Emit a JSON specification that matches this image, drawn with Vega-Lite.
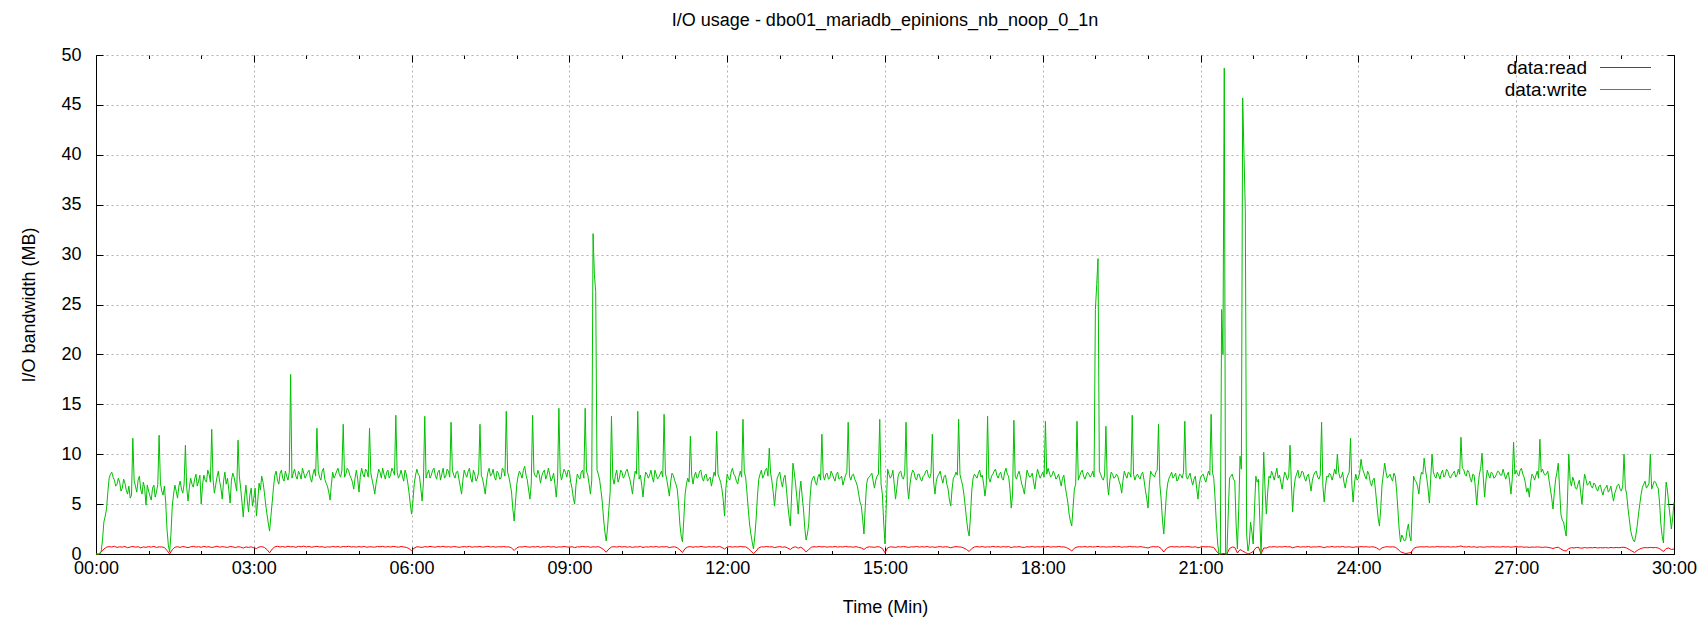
{
"$schema": "https://vega.github.io/schema/vega-lite/v6.json",
"width": 1578, "height": 499,
"autosize": {"type": "none"},
"padding": {"left": 96, "top": 55, "right": 34, "bottom": 67},
"background": "white",
"title": {"text": "I/O usage - dbo01_mariadb_epinions_nb_noop_0_1n", "font": "Liberation Sans", "fontSize": 18, "fontWeight": "normal", "color": "#000", "anchor": "middle", "frame": "group", "baseline": "middle", "offset": 7},
"config": {
  "view": {"stroke": null},
  "axis": {"domainColor": "#000", "domainWidth": 1, "tickColor": "#000", "tickWidth": 1, "labelColor": "#000", "labelFont": "Liberation Sans", "labelFontSize": 18, "titleFont": "Liberation Sans", "titleFontSize": 18, "titleFontWeight": "normal", "titleColor": "#000", "gridColor": "#b0b0b0", "gridDash": [2, 3], "gridWidth": 1, "labelOverlap": false, "labelFlush": false},
  "legend": {"orient": "none", "legendX": 1520, "legendY": 3, "labelFont": "Liberation Sans", "labelFontSize": 19, "labelColor": "#000", "symbolType": "M-3,0H3", "symbolSize": 289, "symbolStrokeWidth": 1, "labelAlign": "right", "labelOffset": -48, "rowPadding": 2}
},
"datasets": {"io": [
{"t":0,"read":0,"write":0},{"t":3,"read":0,"write":0},{"t":6,"read":0.2,"write":0.3},{"t":9,"read":0.5,"write":3.2},{"t":12,"read":0.68,"write":4.5},{"t":15,"read":0.74,"write":7.6},{"t":18,"read":0.7,"write":8.2},{"t":21,"read":0.77,"write":7.4},{"t":24,"read":0.66,"write":7.0},{"t":27,"read":0.72,"write":7.2},{"t":30,"read":0.69,"write":6.6},{"t":33,"read":0.75,"write":7.1},{"t":36,"read":0.63,"write":6.0},{"t":39,"read":0.7,"write":5.6},{"t":42,"read":0.76,"write":11.6},{"t":45,"read":0.68,"write":6.8},{"t":48,"read":0.73,"write":7.4},{"t":51,"read":0.62,"write":6.5},{"t":54,"read":0.71,"write":7.2},{"t":57,"read":0.67,"write":4.9},
{"t":60,"read":0.74,"write":6.3},{"t":63,"read":0.69,"write":5.4},{"t":66,"read":0.77,"write":6.9},{"t":69,"read":0.65,"write":6.2},{"t":72,"read":0.72,"write":11.9},{"t":75,"read":0.7,"write":6.3},{"t":78,"read":0.66,"write":6.8},{"t":81,"read":0.35,"write":2.5},{"t":84,"read":0.02,"write":0.2},{"t":87,"read":0.42,"write":4.8},{"t":90,"read":0.68,"write":6.9},{"t":93,"read":0.73,"write":5.6},{"t":96,"read":0.66,"write":7.3},{"t":99,"read":0.75,"write":6.1},{"t":102,"read":0.7,"write":10.9},{"t":105,"read":0.64,"write":5.3},{"t":108,"read":0.72,"write":7.6},{"t":111,"read":0.77,"write":6.7},{"t":114,"read":0.69,"write":8.0},{"t":117,"read":0.74,"write":7.3},
{"t":120,"read":0.67,"write":5.0},{"t":123,"read":0.76,"write":7.9},{"t":126,"read":0.7,"write":7.2},{"t":129,"read":0.73,"write":8.0},{"t":132,"read":0.65,"write":12.5},{"t":135,"read":0.71,"write":6.1},{"t":138,"read":0.78,"write":7.7},{"t":141,"read":0.68,"write":7.3},{"t":144,"read":0.74,"write":5.5},{"t":147,"read":0.7,"write":8.2},{"t":150,"read":0.66,"write":7.6},{"t":153,"read":0.75,"write":5.1},{"t":156,"read":0.72,"write":8.1},{"t":159,"read":0.64,"write":7.0},{"t":162,"read":0.73,"write":11.4},{"t":165,"read":0.69,"write":6.6},{"t":168,"read":0.6,"write":3.7},{"t":171,"read":0.71,"write":6.9},{"t":174,"read":0.66,"write":4.2},{"t":177,"read":0.72,"write":6.6},
{"t":180,"read":0.62,"write":5.6},{"t":183,"read":0.55,"write":3.8},{"t":186,"read":0.7,"write":7.1},{"t":189,"read":0.74,"write":7.8},{"t":192,"read":0.66,"write":6.2},{"t":195,"read":0.45,"write":4.0},{"t":198,"read":0.12,"write":2.3},{"t":201,"read":0.5,"write":5.2},{"t":204,"read":0.72,"write":7.9},{"t":207,"read":0.77,"write":7.4},{"t":210,"read":0.7,"write":8.1},{"t":213,"read":0.75,"write":7.6},{"t":216,"read":0.68,"write":8.3},{"t":219,"read":0.78,"write":7.4},{"t":222,"read":0.71,"write":18.0},{"t":225,"read":0.74,"write":8.1},{"t":228,"read":0.67,"write":7.8},{"t":231,"read":0.76,"write":8.3},{"t":234,"read":0.72,"write":7.5},{"t":237,"read":0.79,"write":8.1},
{"t":240,"read":0.7,"write":7.9},{"t":243,"read":0.75,"write":8.4},{"t":246,"read":0.68,"write":7.2},{"t":249,"read":0.73,"write":8.5},{"t":252,"read":0.77,"write":12.6},{"t":255,"read":0.7,"write":7.7},{"t":258,"read":0.74,"write":8.3},{"t":261,"read":0.66,"write":7.5},{"t":264,"read":0.72,"write":6.8},{"t":267,"read":0.69,"write":5.4},{"t":270,"read":0.76,"write":8.2},{"t":273,"read":0.71,"write":7.9},{"t":276,"read":0.74,"write":8.6},{"t":279,"read":0.68,"write":7.7},{"t":282,"read":0.75,"write":13.0},{"t":285,"read":0.72,"write":8.0},{"t":288,"read":0.77,"write":8.4},{"t":291,"read":0.7,"write":7.6},{"t":294,"read":0.73,"write":6.5},{"t":297,"read":0.69,"write":8.4},
{"t":300,"read":0.74,"write":6.2},{"t":303,"read":0.7,"write":8.6},{"t":306,"read":0.76,"write":7.7},{"t":309,"read":0.67,"write":8.3},{"t":312,"read":0.73,"write":12.6},{"t":315,"read":0.71,"write":7.4},{"t":318,"read":0.68,"write":6.0},{"t":321,"read":0.75,"write":7.8},{"t":324,"read":0.72,"write":8.2},{"t":327,"read":0.77,"write":8.6},{"t":330,"read":0.69,"write":7.5},{"t":333,"read":0.74,"write":8.4},{"t":336,"read":0.7,"write":7.9},{"t":339,"read":0.76,"write":8.3},{"t":342,"read":0.72,"write":13.9},{"t":345,"read":0.68,"write":7.6},{"t":348,"read":0.75,"write":8.4},{"t":351,"read":0.71,"write":7.3},{"t":354,"read":0.66,"write":8.0},{"t":357,"read":0.55,"write":6.2},
{"t":360,"read":0.32,"write":4.0},{"t":363,"read":0.6,"write":7.0},{"t":366,"read":0.72,"write":8.5},{"t":369,"read":0.7,"write":7.8},{"t":372,"read":0.66,"write":5.3},{"t":375,"read":0.74,"write":13.8},{"t":378,"read":0.7,"write":8.1},{"t":381,"read":0.76,"write":7.6},{"t":384,"read":0.72,"write":8.4},{"t":387,"read":0.68,"write":7.9},{"t":390,"read":0.75,"write":8.2},{"t":393,"read":0.71,"write":7.4},{"t":396,"read":0.77,"write":8.6},{"t":399,"read":0.7,"write":7.8},{"t":402,"read":0.73,"write":8.3},{"t":405,"read":0.69,"write":13.2},{"t":408,"read":0.75,"write":7.9},{"t":411,"read":0.72,"write":8.2},{"t":414,"read":0.67,"write":7.5},{"t":417,"read":0.71,"write":6.0},
{"t":420,"read":0.74,"write":8.4},{"t":423,"read":0.7,"write":7.7},{"t":426,"read":0.76,"write":8.6},{"t":429,"read":0.68,"write":7.2},{"t":432,"read":0.73,"write":8.0},{"t":435,"read":0.71,"write":7.6},{"t":438,"read":0.75,"write":13.0},{"t":441,"read":0.69,"write":7.5},{"t":444,"read":0.72,"write":6.0},{"t":447,"read":0.77,"write":8.2},{"t":450,"read":0.7,"write":7.8},{"t":453,"read":0.74,"write":8.5},{"t":456,"read":0.68,"write":7.4},{"t":459,"read":0.73,"write":8.1},{"t":462,"read":0.71,"write":7.6},{"t":465,"read":0.75,"write":8.4},{"t":468,"read":0.7,"write":14.3},{"t":471,"read":0.72,"write":7.7},{"t":474,"read":0.6,"write":6.2},{"t":477,"read":0.35,"write":3.3},
{"t":480,"read":0.62,"write":7.0},{"t":483,"read":0.72,"write":8.3},{"t":486,"read":0.7,"write":7.6},{"t":489,"read":0.76,"write":8.8},{"t":492,"read":0.71,"write":7.4},{"t":495,"read":0.68,"write":5.5},{"t":498,"read":0.74,"write":13.9},{"t":501,"read":0.7,"write":7.8},{"t":504,"read":0.75,"write":8.4},{"t":507,"read":0.67,"write":7.1},{"t":510,"read":0.73,"write":8.2},{"t":513,"read":0.7,"write":7.5},{"t":516,"read":0.76,"write":8.6},{"t":519,"read":0.69,"write":7.3},{"t":522,"read":0.74,"write":8.1},{"t":525,"read":0.66,"write":5.7},{"t":528,"read":0.72,"write":14.6},{"t":531,"read":0.7,"write":7.4},{"t":534,"read":0.75,"write":8.5},{"t":537,"read":0.71,"write":7.7},
{"t":540,"read":0.68,"write":8.3},{"t":543,"read":0.73,"write":6.6},{"t":546,"read":0.64,"write":5.0},{"t":549,"read":0.72,"write":8.0},{"t":552,"read":0.7,"write":7.5},{"t":555,"read":0.76,"write":8.4},{"t":558,"read":0.71,"write":14.6},{"t":561,"read":0.74,"write":7.9},{"t":564,"read":0.67,"write":6.0},{"t":567,"read":0.72,"write":32.1},{"t":570,"read":0.7,"write":26.3},{"t":573,"read":0.74,"write":8.0},{"t":576,"read":0.62,"write":6.4},{"t":579,"read":0.45,"write":3.5},{"t":582,"read":0.18,"write":1.3},{"t":585,"read":0.5,"write":4.5},{"t":588,"read":0.7,"write":13.8},{"t":591,"read":0.73,"write":7.0},{"t":594,"read":0.69,"write":8.4},{"t":597,"read":0.75,"write":7.6},
{"t":600,"read":0.7,"write":8.2},{"t":603,"read":0.74,"write":7.8},{"t":606,"read":0.68,"write":8.5},{"t":609,"read":0.73,"write":7.5},{"t":612,"read":0.66,"write":6.0},{"t":615,"read":0.72,"write":8.3},{"t":618,"read":0.7,"write":14.3},{"t":621,"read":0.76,"write":7.9},{"t":624,"read":0.65,"write":5.7},{"t":627,"read":0.72,"write":8.2},{"t":630,"read":0.69,"write":7.6},{"t":633,"read":0.74,"write":8.4},{"t":636,"read":0.7,"write":7.2},{"t":639,"read":0.75,"write":8.0},{"t":642,"read":0.68,"write":7.7},{"t":645,"read":0.73,"write":8.3},{"t":648,"read":0.71,"write":14.0},{"t":651,"read":0.74,"write":7.5},{"t":654,"read":0.64,"write":5.8},{"t":657,"read":0.7,"write":8.1},
{"t":660,"read":0.72,"write":7.4},{"t":663,"read":0.62,"write":6.5},{"t":666,"read":0.42,"write":3.0},{"t":669,"read":0.15,"write":1.2},{"t":672,"read":0.55,"write":6.0},{"t":675,"read":0.7,"write":7.6},{"t":678,"read":0.74,"write":11.8},{"t":681,"read":0.68,"write":7.0},{"t":684,"read":0.73,"write":8.2},{"t":687,"read":0.7,"write":7.7},{"t":690,"read":0.76,"write":8.4},{"t":693,"read":0.71,"write":7.3},{"t":696,"read":0.68,"write":8.0},{"t":699,"read":0.74,"write":7.5},{"t":702,"read":0.7,"write":6.8},{"t":705,"read":0.73,"write":8.2},{"t":708,"read":0.69,"write":12.3},{"t":711,"read":0.75,"write":7.6},{"t":714,"read":0.66,"write":6.5},{"t":717,"read":0.5,"write":3.8},
{"t":720,"read":0.7,"write":8.0},{"t":723,"read":0.74,"write":7.4},{"t":726,"read":0.69,"write":8.6},{"t":729,"read":0.73,"write":7.8},{"t":732,"read":0.7,"write":7.0},{"t":735,"read":0.76,"write":8.3},{"t":738,"read":0.71,"write":13.5},{"t":741,"read":0.72,"write":7.7},{"t":744,"read":0.55,"write":4.5},{"t":747,"read":0.3,"write":2.0},{"t":750,"read":0.04,"write":0.5},{"t":753,"read":0.3,"write":3.5},{"t":756,"read":0.62,"write":7.5},{"t":759,"read":0.72,"write":8.4},{"t":762,"read":0.7,"write":7.9},{"t":765,"read":0.75,"write":8.6},{"t":768,"read":0.71,"write":10.6},{"t":771,"read":0.73,"write":7.3},{"t":774,"read":0.64,"write":4.8},{"t":777,"read":0.7,"write":7.6},
{"t":780,"read":0.74,"write":8.2},{"t":783,"read":0.68,"write":6.7},{"t":786,"read":0.72,"write":7.9},{"t":789,"read":0.6,"write":5.0},{"t":792,"read":0.45,"write":2.8},{"t":795,"read":0.66,"write":9.1},{"t":798,"read":0.72,"write":7.0},{"t":801,"read":0.58,"write":4.0},{"t":804,"read":0.68,"write":7.3},{"t":807,"read":0.5,"write":4.5},{"t":810,"read":0.2,"write":1.4},{"t":813,"read":0.45,"write":3.0},{"t":816,"read":0.68,"write":7.2},{"t":819,"read":0.73,"write":7.8},{"t":822,"read":0.7,"write":6.9},{"t":825,"read":0.75,"write":8.0},{"t":828,"read":0.71,"write":12.0},{"t":831,"read":0.74,"write":7.4},{"t":834,"read":0.68,"write":8.1},{"t":837,"read":0.73,"write":7.6},
{"t":840,"read":0.7,"write":8.0},{"t":843,"read":0.75,"write":7.3},{"t":846,"read":0.69,"write":8.2},{"t":849,"read":0.73,"write":7.6},{"t":852,"read":0.7,"write":6.9},{"t":855,"read":0.76,"write":7.9},{"t":858,"read":0.71,"write":13.2},{"t":861,"read":0.72,"write":7.4},{"t":864,"read":0.68,"write":8.0},{"t":867,"read":0.74,"write":7.2},{"t":870,"read":0.66,"write":6.0},{"t":873,"read":0.6,"write":4.8},{"t":876,"read":0.45,"write":2.0},{"t":879,"read":0.65,"write":7.0},{"t":882,"read":0.72,"write":7.7},{"t":885,"read":0.7,"write":8.1},{"t":888,"read":0.67,"write":6.6},{"t":891,"read":0.73,"write":7.8},{"t":894,"read":0.7,"write":13.5},{"t":897,"read":0.55,"write":6.0},
{"t":900,"read":0.12,"write":1.0},{"t":903,"read":0.62,"write":8.5},{"t":906,"read":0.72,"write":7.6},{"t":909,"read":0.7,"write":8.4},{"t":912,"read":0.66,"write":5.5},{"t":915,"read":0.73,"write":7.8},{"t":918,"read":0.7,"write":8.3},{"t":921,"read":0.75,"write":7.5},{"t":924,"read":0.71,"write":13.2},{"t":927,"read":0.66,"write":5.5},{"t":930,"read":0.72,"write":7.9},{"t":933,"read":0.7,"write":8.2},{"t":936,"read":0.76,"write":7.4},{"t":939,"read":0.69,"write":8.0},{"t":942,"read":0.73,"write":7.3},{"t":945,"read":0.7,"write":7.9},{"t":948,"read":0.75,"write":8.4},{"t":951,"read":0.68,"write":7.6},{"t":954,"read":0.72,"write":12.0},{"t":957,"read":0.66,"write":6.0},
{"t":960,"read":0.71,"write":7.8},{"t":963,"read":0.74,"write":8.3},{"t":966,"read":0.69,"write":7.1},{"t":969,"read":0.73,"write":7.9},{"t":972,"read":0.7,"write":6.5},{"t":975,"read":0.62,"write":4.8},{"t":978,"read":0.7,"write":7.6},{"t":981,"read":0.74,"write":8.2},{"t":984,"read":0.71,"write":13.5},{"t":987,"read":0.69,"write":7.4},{"t":990,"read":0.6,"write":6.0},{"t":993,"read":0.45,"write":3.5},{"t":996,"read":0.25,"write":1.8},{"t":999,"read":0.55,"write":6.4},{"t":1002,"read":0.7,"write":8.0},{"t":1005,"read":0.74,"write":7.6},{"t":1008,"read":0.7,"write":8.4},{"t":1011,"read":0.75,"write":7.9},{"t":1014,"read":0.68,"write":5.8},{"t":1017,"read":0.72,"write":13.8},
{"t":1020,"read":0.7,"write":7.2},{"t":1023,"read":0.76,"write":8.0},{"t":1026,"read":0.71,"write":8.5},{"t":1029,"read":0.73,"write":7.6},{"t":1032,"read":0.69,"write":8.2},{"t":1035,"read":0.74,"write":7.4},{"t":1038,"read":0.7,"write":8.6},{"t":1041,"read":0.75,"write":7.8},{"t":1044,"read":0.64,"write":4.6},{"t":1047,"read":0.72,"write":13.4},{"t":1050,"read":0.7,"write":7.5},{"t":1053,"read":0.74,"write":8.3},{"t":1056,"read":0.68,"write":7.0},{"t":1059,"read":0.66,"write":6.0},{"t":1062,"read":0.73,"write":8.4},{"t":1065,"read":0.7,"write":7.7},{"t":1068,"read":0.76,"write":8.1},{"t":1071,"read":0.69,"write":6.5},{"t":1074,"read":0.73,"write":8.5},{"t":1077,"read":0.7,"write":7.6},
{"t":1080,"read":0.74,"write":8.2},{"t":1083,"read":0.7,"write":13.3},{"t":1086,"read":0.75,"write":8.6},{"t":1089,"read":0.69,"write":7.7},{"t":1092,"read":0.73,"write":8.3},{"t":1095,"read":0.7,"write":7.5},{"t":1098,"read":0.76,"write":8.0},{"t":1101,"read":0.71,"write":6.8},{"t":1104,"read":0.72,"write":7.9},{"t":1107,"read":0.64,"write":6.0},{"t":1110,"read":0.5,"write":4.0},{"t":1113,"read":0.3,"write":2.8},{"t":1116,"read":0.58,"write":6.5},{"t":1119,"read":0.7,"write":13.3},{"t":1122,"read":0.73,"write":7.8},{"t":1125,"read":0.7,"write":8.4},{"t":1128,"read":0.75,"write":7.5},{"t":1131,"read":0.69,"write":8.2},{"t":1134,"read":0.74,"write":7.7},{"t":1137,"read":0.7,"write":8.3},
{"t":1140,"read":0.72,"write":24.5},{"t":1143,"read":0.76,"write":29.6},{"t":1146,"read":0.7,"write":8.0},{"t":1149,"read":0.73,"write":7.4},{"t":1152,"read":0.69,"write":12.8},{"t":1155,"read":0.72,"write":5.9},{"t":1158,"read":0.7,"write":8.2},{"t":1161,"read":0.75,"write":7.6},{"t":1164,"read":0.71,"write":8.0},{"t":1167,"read":0.74,"write":7.3},{"t":1170,"read":0.68,"write":6.1},{"t":1173,"read":0.72,"write":8.3},{"t":1176,"read":0.7,"write":7.6},{"t":1179,"read":0.76,"write":8.1},{"t":1182,"read":0.71,"write":13.9},{"t":1185,"read":0.73,"write":7.4},{"t":1188,"read":0.69,"write":8.0},{"t":1191,"read":0.74,"write":7.5},{"t":1194,"read":0.7,"write":8.2},{"t":1197,"read":0.66,"write":6.4},
{"t":1200,"read":0.6,"write":4.6},{"t":1203,"read":0.7,"write":8.3},{"t":1206,"read":0.74,"write":7.9},{"t":1209,"read":0.71,"write":8.2},{"t":1212,"read":0.73,"write":13.0},{"t":1215,"read":0.55,"write":5.5},{"t":1218,"read":0.2,"write":2.0},{"t":1221,"read":0.55,"write":6.0},{"t":1224,"read":0.7,"write":7.6},{"t":1227,"read":0.74,"write":8.2},{"t":1230,"read":0.71,"write":7.8},{"t":1233,"read":0.73,"write":7.3},{"t":1236,"read":0.69,"write":8.0},{"t":1239,"read":0.74,"write":7.6},{"t":1242,"read":0.7,"write":13.3},{"t":1245,"read":0.75,"write":7.5},{"t":1248,"read":0.71,"write":8.1},{"t":1251,"read":0.68,"write":6.9},{"t":1254,"read":0.73,"write":7.8},{"t":1257,"read":0.62,"write":5.5},
{"t":1260,"read":0.7,"write":7.7},{"t":1263,"read":0.74,"write":8.0},{"t":1266,"read":0.71,"write":7.2},{"t":1269,"read":0.73,"write":8.3},{"t":1272,"read":0.7,"write":14.0},{"t":1275,"read":0.66,"write":7.6},{"t":1278,"read":0.3,"write":3.0},{"t":1281,"read":0,"write":0},{"t":1284,"read":0.02,"write":24.5},{"t":1287,"read":0.05,"write":48.7},{"t":1290,"read":0,"write":0},{"t":1293,"read":0.55,"write":7.6},{"t":1296,"read":0.7,"write":8.0},{"t":1299,"read":0.66,"write":7.3},{"t":1302,"read":0.1,"write":0.5},{"t":1305,"read":0.45,"write":9.8},{"t":1308,"read":0.3,"write":45.7},{"t":1311,"read":0.15,"write":34.5},{"t":1314,"read":0,"write":0.3},{"t":1317,"read":0.1,"write":3.2},
{"t":1320,"read":0.25,"write":1.0},{"t":1323,"read":0.62,"write":7.8},{"t":1326,"read":0.7,"write":7.5},{"t":1329,"read":0.02,"write":0},{"t":1332,"read":0.6,"write":10.2},{"t":1335,"read":0.6,"write":4.0},{"t":1338,"read":0.72,"write":7.8},{"t":1341,"read":0.7,"write":8.3},{"t":1344,"read":0.74,"write":7.4},{"t":1347,"read":0.69,"write":8.6},{"t":1350,"read":0.73,"write":7.9},{"t":1353,"read":0.7,"write":6.5},{"t":1356,"read":0.75,"write":8.2},{"t":1359,"read":0.71,"write":7.4},{"t":1362,"read":0.73,"write":10.9},{"t":1365,"read":0.62,"write":4.2},{"t":1368,"read":0.7,"write":7.6},{"t":1371,"read":0.74,"write":8.4},{"t":1374,"read":0.69,"write":7.8},{"t":1377,"read":0.73,"write":8.2},
{"t":1380,"read":0.7,"write":7.3},{"t":1383,"read":0.75,"write":8.0},{"t":1386,"read":0.68,"write":6.3},{"t":1389,"read":0.72,"write":7.9},{"t":1392,"read":0.7,"write":8.3},{"t":1395,"read":0.74,"write":7.5},{"t":1398,"read":0.71,"write":13.2},{"t":1401,"read":0.64,"write":5.2},{"t":1404,"read":0.72,"write":7.8},{"t":1407,"read":0.7,"write":8.1},{"t":1410,"read":0.75,"write":7.4},{"t":1413,"read":0.69,"write":8.5},{"t":1416,"read":0.73,"write":10.0},{"t":1419,"read":0.7,"write":7.6},{"t":1422,"read":0.76,"write":8.2},{"t":1425,"read":0.68,"write":6.6},{"t":1428,"read":0.72,"write":7.9},{"t":1431,"read":0.7,"write":11.6},{"t":1434,"read":0.66,"write":5.2},{"t":1437,"read":0.72,"write":8.0},
{"t":1440,"read":0.7,"write":7.6},{"t":1443,"read":0.74,"write":9.5},{"t":1446,"read":0.71,"write":8.2},{"t":1449,"read":0.73,"write":7.5},{"t":1452,"read":0.69,"write":8.0},{"t":1455,"read":0.72,"write":6.8},{"t":1458,"read":0.7,"write":7.6},{"t":1461,"read":0.6,"write":5.0},{"t":1464,"read":0.42,"write":2.8},{"t":1467,"read":0.62,"write":7.0},{"t":1470,"read":0.7,"write":9.1},{"t":1473,"read":0.73,"write":7.6},{"t":1476,"read":0.7,"write":8.0},{"t":1479,"read":0.72,"write":7.3},{"t":1482,"read":0.68,"write":7.8},{"t":1485,"read":0.5,"write":4.5},{"t":1488,"read":0.22,"write":1.2},{"t":1491,"read":0.12,"write":1.6},{"t":1494,"read":0.05,"write":1.4},{"t":1497,"read":0.1,"write":3.0},
{"t":1500,"read":0.15,"write":1.3},{"t":1503,"read":0.55,"write":7.8},{"t":1506,"read":0.68,"write":7.2},{"t":1509,"read":0.7,"write":6.0},{"t":1512,"read":0.73,"write":8.2},{"t":1515,"read":0.7,"write":9.6},{"t":1518,"read":0.74,"write":7.6},{"t":1521,"read":0.69,"write":5.1},{"t":1524,"read":0.72,"write":10.0},{"t":1527,"read":0.7,"write":7.8},{"t":1530,"read":0.75,"write":8.2},{"t":1533,"read":0.71,"write":7.5},{"t":1536,"read":0.73,"write":8.4},{"t":1539,"read":0.7,"write":7.9},{"t":1542,"read":0.74,"write":8.3},{"t":1545,"read":0.69,"write":7.6},{"t":1548,"read":0.72,"write":8.1},{"t":1551,"read":0.7,"write":7.7},{"t":1554,"read":0.75,"write":8.5},{"t":1557,"read":0.8,"write":11.7},
{"t":1560,"read":0.72,"write":8.5},{"t":1563,"read":0.7,"write":7.8},{"t":1566,"read":0.74,"write":8.2},{"t":1569,"read":0.69,"write":7.2},{"t":1572,"read":0.73,"write":7.9},{"t":1575,"read":0.66,"write":4.9},{"t":1578,"read":0.72,"write":8.0},{"t":1581,"read":0.7,"write":10.1},{"t":1584,"read":0.68,"write":5.7},{"t":1587,"read":0.73,"write":8.4},{"t":1590,"read":0.7,"write":7.6},{"t":1593,"read":0.74,"write":8.1},{"t":1596,"read":0.7,"write":7.7},{"t":1599,"read":0.72,"write":8.3},{"t":1602,"read":0.69,"write":7.9},{"t":1605,"read":0.74,"write":8.5},{"t":1608,"read":0.7,"write":7.5},{"t":1611,"read":0.73,"write":8.2},{"t":1614,"read":0.68,"write":6.0},{"t":1617,"read":0.72,"write":11.2},
{"t":1620,"read":0.74,"write":8.4},{"t":1623,"read":0.7,"write":7.8},{"t":1626,"read":0.72,"write":8.6},{"t":1629,"read":0.68,"write":7.7},{"t":1632,"read":0.7,"write":6.2},{"t":1635,"read":0.66,"write":5.7},{"t":1638,"read":0.7,"write":8.0},{"t":1641,"read":0.68,"write":7.4},{"t":1644,"read":0.71,"write":8.3},{"t":1647,"read":0.69,"write":11.5},{"t":1650,"read":0.66,"write":8.5},{"t":1653,"read":0.7,"write":7.9},{"t":1656,"read":0.67,"write":8.3},{"t":1659,"read":0.62,"write":6.5},{"t":1662,"read":0.55,"write":4.5},{"t":1665,"read":0.64,"write":7.5},{"t":1668,"read":0.68,"write":9.1},{"t":1671,"read":0.5,"write":4.0},{"t":1674,"read":0.35,"write":3.2},{"t":1677,"read":0.3,"write":1.8},
{"t":1680,"read":0.55,"write":10.0},{"t":1683,"read":0.64,"write":6.8},{"t":1686,"read":0.6,"write":7.3},{"t":1689,"read":0.66,"write":6.5},{"t":1692,"read":0.62,"write":7.4},{"t":1695,"read":0.58,"write":5.0},{"t":1698,"read":0.65,"write":8.0},{"t":1701,"read":0.6,"write":6.9},{"t":1704,"read":0.64,"write":7.3},{"t":1707,"read":0.62,"write":6.6},{"t":1710,"read":0.66,"write":7.0},{"t":1713,"read":0.6,"write":6.3},{"t":1716,"read":0.64,"write":6.9},{"t":1719,"read":0.61,"write":5.9},{"t":1722,"read":0.65,"write":6.6},{"t":1725,"read":0.6,"write":6.2},{"t":1728,"read":0.66,"write":6.8},{"t":1731,"read":0.62,"write":5.3},{"t":1734,"read":0.65,"write":6.5},{"t":1737,"read":0.63,"write":7.0},
{"t":1740,"read":0.66,"write":6.3},{"t":1743,"read":0.68,"write":10.0},{"t":1746,"read":0.6,"write":6.0},{"t":1749,"read":0.45,"write":3.5},{"t":1752,"read":0.3,"write":1.8},{"t":1755,"read":0.15,"write":1.2},{"t":1758,"read":0.35,"write":2.8},{"t":1761,"read":0.5,"write":5.0},{"t":1764,"read":0.6,"write":6.7},{"t":1767,"read":0.64,"write":7.3},{"t":1770,"read":0.62,"write":6.8},{"t":1773,"read":0.66,"write":10.0},{"t":1776,"read":0.63,"write":6.9},{"t":1779,"read":0.65,"write":7.2},{"t":1782,"read":0.6,"write":6.6},{"t":1785,"read":0.45,"write":3.0},{"t":1788,"read":0.25,"write":1.1},{"t":1791,"read":0.55,"write":7.2},{"t":1794,"read":0.6,"write":5.0},{"t":1797,"read":0.45,"write":2.5},{"t":1800,"read":0.5,"write":5.2},
{"t":1.5,"write":0},{"t":4.5,"write":0},{"t":7.5,"write":1.5},{"t":10.5,"write":3.8},{"t":13.5,"write":6.2},{"t":16.5,"write":8.0},{"t":19.5,"write":7.7},{"t":22.5,"write":6.8},{"t":25.5,"write":7.6},{"t":28.5,"write":6.3},{"t":31.5,"write":7.5},{"t":34.5,"write":6.4},{"t":37.5,"write":6.8},{"t":40.5,"write":5.9},{"t":43.5,"write":7.4},{"t":46.5,"write":6.2},{"t":49.5,"write":7.8},{"t":52.5,"write":6.0},{"t":55.5,"write":6.6},{"t":58.5,"write":6.9},
{"t":61.5,"write":5.8},{"t":64.5,"write":6.6},{"t":67.5,"write":5.7},{"t":70.5,"write":7.0},{"t":73.5,"write":7.1},{"t":76.5,"write":5.9},{"t":79.5,"write":5.2},{"t":82.5,"write":0.9},{"t":85.5,"write":2.0},{"t":88.5,"write":6.0},{"t":91.5,"write":6.3},{"t":94.5,"write":6.8},{"t":97.5,"write":6.5},{"t":100.5,"write":7.0},{"t":103.5,"write":6.6},{"t":106.5,"write":6.7},{"t":109.5,"write":7.0},{"t":112.5,"write":7.5},{"t":115.5,"write":6.8},{"t":118.5,"write":7.9},
{"t":121.5,"write":6.9},{"t":124.5,"write":7.4},{"t":127.5,"write":8.4},{"t":130.5,"write":7.2},{"t":133.5,"write":7.5},{"t":136.5,"write":6.9},{"t":139.5,"write":8.3},{"t":142.5,"write":6.6},{"t":145.5,"write":7.3},{"t":148.5,"write":7.0},{"t":151.5,"write":6.4},{"t":154.5,"write":7.4},{"t":157.5,"write":7.7},{"t":160.5,"write":6.3},{"t":163.5,"write":7.8},{"t":166.5,"write":5.2},{"t":169.5,"write":5.6},{"t":172.5,"write":5.4},{"t":175.5,"write":5.9},{"t":178.5,"write":4.8},
{"t":181.5,"write":6.6},{"t":184.5,"write":5.3},{"t":187.5,"write":6.4},{"t":190.5,"write":7.2},{"t":193.5,"write":5.0},{"t":196.5,"write":3.1},{"t":199.5,"write":3.8},{"t":202.5,"write":6.7},{"t":205.5,"write":8.3},{"t":208.5,"write":7.0},{"t":211.5,"write":8.4},{"t":214.5,"write":7.3},{"t":217.5,"write":7.8},{"t":220.5,"write":8.2},{"t":223.5,"write":7.6},{"t":226.5,"write":8.5},{"t":229.5,"write":7.5},{"t":232.5,"write":8.0},{"t":235.5,"write":8.6},{"t":238.5,"write":7.6},
{"t":241.5,"write":8.2},{"t":244.5,"write":7.6},{"t":247.5,"write":8.0},{"t":250.5,"write":7.8},{"t":253.5,"write":8.3},{"t":256.5,"write":7.4},{"t":259.5,"write":8.6},{"t":262.5,"write":7.1},{"t":265.5,"write":6.2},{"t":268.5,"write":7.0},{"t":271.5,"write":7.6},{"t":274.5,"write":8.3},{"t":277.5,"write":8.0},{"t":280.5,"write":8.4},{"t":283.5,"write":7.7},{"t":286.5,"write":8.6},{"t":289.5,"write":7.9},{"t":292.5,"write":7.2},{"t":295.5,"write":7.6},{"t":298.5,"write":7.5},
{"t":301.5,"write":7.8},{"t":304.5,"write":8.0},{"t":307.5,"write":8.5},{"t":310.5,"write":7.7},{"t":313.5,"write":8.1},{"t":316.5,"write":6.8},{"t":319.5,"write":7.1},{"t":322.5,"write":8.5},{"t":325.5,"write":7.6},{"t":328.5,"write":8.0},{"t":331.5,"write":8.2},{"t":334.5,"write":7.6},{"t":337.5,"write":8.6},{"t":340.5,"write":7.9},{"t":343.5,"write":8.2},{"t":346.5,"write":7.9},{"t":349.5,"write":7.8},{"t":352.5,"write":8.4},{"t":355.5,"write":7.2},{"t":358.5,"write":5.0},
{"t":361.5,"write":5.3},{"t":364.5,"write":7.9},{"t":367.5,"write":8.0},{"t":370.5,"write":6.6},{"t":373.5,"write":7.2},{"t":376.5,"write":7.6},{"t":379.5,"write":8.4},{"t":382.5,"write":7.9},{"t":385.5,"write":8.6},{"t":388.5,"write":7.5},{"t":391.5,"write":8.4},{"t":394.5,"write":8.0},{"t":397.5,"write":7.6},{"t":400.5,"write":8.5},{"t":403.5,"write":7.7},{"t":406.5,"write":8.4},{"t":409.5,"write":7.6},{"t":412.5,"write":8.3},{"t":415.5,"write":6.8},{"t":418.5,"write":7.4},
{"t":421.5,"write":8.0},{"t":424.5,"write":8.3},{"t":427.5,"write":7.6},{"t":430.5,"write":8.4},{"t":433.5,"write":7.3},{"t":436.5,"write":8.2},{"t":439.5,"write":7.9},{"t":442.5,"write":6.8},{"t":445.5,"write":7.3},{"t":448.5,"write":8.6},{"t":451.5,"write":8.0},{"t":454.5,"write":7.7},{"t":457.5,"write":8.3},{"t":460.5,"write":7.5},{"t":463.5,"write":8.6},{"t":466.5,"write":7.8},{"t":469.5,"write":8.2},{"t":472.5,"write":7.0},{"t":475.5,"write":4.5},{"t":478.5,"write":5.2},
{"t":481.5,"write":7.8},{"t":484.5,"write":8.0},{"t":487.5,"write":8.4},{"t":490.5,"write":7.9},{"t":493.5,"write":6.4},{"t":496.5,"write":7.0},{"t":499.5,"write":8.2},{"t":502.5,"write":7.7},{"t":505.5,"write":8.0},{"t":508.5,"write":7.8},{"t":511.5,"write":8.4},{"t":514.5,"write":7.9},{"t":517.5,"write":8.0},{"t":520.5,"write":7.6},{"t":523.5,"write":7.0},{"t":526.5,"write":7.4},{"t":529.5,"write":8.1},{"t":532.5,"write":8.0},{"t":535.5,"write":8.2},{"t":538.5,"write":8.4},
{"t":541.5,"write":7.2},{"t":544.5,"write":5.6},{"t":547.5,"write":6.9},{"t":550.5,"write":7.7},{"t":553.5,"write":8.2},{"t":556.5,"write":7.6},{"t":559.5,"write":8.3},{"t":562.5,"write":7.0},{"t":565.5,"write":7.4},{"t":568.5,"write":28.0},{"t":571.5,"write":8.4},{"t":574.5,"write":7.4},{"t":577.5,"write":5.2},{"t":580.5,"write":2.2},{"t":583.5,"write":2.6},{"t":586.5,"write":6.2},{"t":589.5,"write":7.6},{"t":592.5,"write":7.9},{"t":595.5,"write":7.2},{"t":598.5,"write":8.4},
{"t":601.5,"write":7.6},{"t":604.5,"write":8.3},{"t":607.5,"write":7.9},{"t":610.5,"write":6.8},{"t":613.5,"write":7.4},{"t":616.5,"write":8.0},{"t":619.5,"write":7.5},{"t":622.5,"write":6.9},{"t":625.5,"write":7.3},{"t":628.5,"write":8.0},{"t":631.5,"write":7.9},{"t":634.5,"write":7.7},{"t":637.5,"write":8.4},{"t":640.5,"write":7.5},{"t":643.5,"write":8.0},{"t":646.5,"write":7.7},{"t":649.5,"write":8.1},{"t":652.5,"write":6.7},{"t":655.5,"write":7.2},{"t":658.5,"write":7.9},
{"t":661.5,"write":7.0},{"t":664.5,"write":5.0},{"t":667.5,"write":1.8},{"t":670.5,"write":3.5},{"t":673.5,"write":7.0},{"t":676.5,"write":7.2},{"t":679.5,"write":7.9},{"t":682.5,"write":7.8},{"t":685.5,"write":7.6},{"t":688.5,"write":8.3},{"t":691.5,"write":7.6},{"t":694.5,"write":7.9},{"t":697.5,"write":7.3},{"t":700.5,"write":7.7},{"t":703.5,"write":7.5},{"t":706.5,"write":7.8},{"t":709.5,"write":8.0},{"t":712.5,"write":7.2},{"t":715.5,"write":5.4},{"t":718.5,"write":6.6},
{"t":721.5,"write":7.6},{"t":724.5,"write":8.2},{"t":727.5,"write":8.0},{"t":730.5,"write":7.3},{"t":733.5,"write":7.8},{"t":736.5,"write":7.7},{"t":739.5,"write":8.2},{"t":742.5,"write":6.2},{"t":745.5,"write":3.0},{"t":748.5,"write":1.2},{"t":751.5,"write":1.8},{"t":754.5,"write":5.8},{"t":757.5,"write":8.0},{"t":760.5,"write":7.6},{"t":763.5,"write":8.4},{"t":766.5,"write":7.8},{"t":769.5,"write":8.1},{"t":772.5,"write":6.2},{"t":775.5,"write":6.3},{"t":778.5,"write":7.9},
{"t":781.5,"write":7.3},{"t":784.5,"write":7.6},{"t":787.5,"write":6.6},{"t":790.5,"write":3.8},{"t":793.5,"write":6.0},{"t":796.5,"write":8.2},{"t":799.5,"write":5.6},{"t":802.5,"write":6.1},{"t":805.5,"write":5.8},{"t":808.5,"write":2.6},{"t":811.5,"write":2.0},{"t":814.5,"write":5.6},{"t":817.5,"write":7.6},{"t":820.5,"write":7.2},{"t":823.5,"write":7.7},{"t":826.5,"write":7.4},{"t":829.5,"write":7.9},{"t":832.5,"write":8.0},{"t":835.5,"write":7.5},{"t":838.5,"write":8.3},
{"t":841.5,"write":7.6},{"t":844.5,"write":8.0},{"t":847.5,"write":7.5},{"t":850.5,"write":7.8},{"t":853.5,"write":7.4},{"t":856.5,"write":8.2},{"t":859.5,"write":7.8},{"t":862.5,"write":7.9},{"t":865.5,"write":7.5},{"t":868.5,"write":6.8},{"t":871.5,"write":5.2},{"t":874.5,"write":3.5},{"t":877.5,"write":4.8},{"t":880.5,"write":7.6},{"t":883.5,"write":7.9},{"t":886.5,"write":7.3},{"t":889.5,"write":7.4},{"t":892.5,"write":8.0},{"t":895.5,"write":7.0},{"t":898.5,"write":3.2},
{"t":901.5,"write":5.0},{"t":904.5,"write":8.0},{"t":907.5,"write":7.8},{"t":910.5,"write":7.0},{"t":913.5,"write":6.6},{"t":916.5,"write":8.2},{"t":919.5,"write":7.7},{"t":922.5,"write":8.1},{"t":925.5,"write":6.8},{"t":928.5,"write":7.0},{"t":931.5,"write":8.4},{"t":934.5,"write":7.6},{"t":937.5,"write":8.0},{"t":940.5,"write":7.5},{"t":943.5,"write":7.8},{"t":946.5,"write":8.3},{"t":949.5,"write":7.8},{"t":952.5,"write":8.1},{"t":955.5,"write":7.2},{"t":958.5,"write":7.3},
{"t":961.5,"write":8.0},{"t":964.5,"write":7.6},{"t":967.5,"write":7.8},{"t":970.5,"write":7.0},{"t":973.5,"write":5.4},{"t":976.5,"write":6.5},{"t":979.5,"write":7.8},{"t":982.5,"write":7.9},{"t":985.5,"write":8.0},{"t":988.5,"write":6.9},{"t":991.5,"write":4.8},{"t":994.5,"write":2.4},{"t":997.5,"write":3.8},{"t":1000.5,"write":7.6},{"t":1003.5,"write":7.8},{"t":1006.5,"write":8.1},{"t":1009.5,"write":7.7},{"t":1012.5,"write":7.0},{"t":1015.5,"write":6.9},{"t":1018.5,"write":7.6},
{"t":1021.5,"write":7.8},{"t":1024.5,"write":8.3},{"t":1027.5,"write":7.9},{"t":1030.5,"write":8.0},{"t":1033.5,"write":7.6},{"t":1036.5,"write":8.2},{"t":1039.5,"write":8.0},{"t":1042.5,"write":6.5},{"t":1045.5,"write":5.9},{"t":1048.5,"write":7.8},{"t":1051.5,"write":8.0},{"t":1054.5,"write":7.7},{"t":1057.5,"write":6.6},{"t":1060.5,"write":7.3},{"t":1063.5,"write":8.0},{"t":1066.5,"write":7.8},{"t":1069.5,"write":7.2},{"t":1072.5,"write":7.7},{"t":1075.5,"write":8.0},{"t":1078.5,"write":7.9},
{"t":1081.5,"write":7.7},{"t":1084.5,"write":8.0},{"t":1087.5,"write":8.1},{"t":1090.5,"write":7.9},{"t":1093.5,"write":8.0},{"t":1096.5,"write":7.7},{"t":1099.5,"write":7.4},{"t":1102.5,"write":7.6},{"t":1105.5,"write":6.8},{"t":1108.5,"write":5.2},{"t":1111.5,"write":3.3},{"t":1114.5,"write":4.6},{"t":1117.5,"write":7.0},{"t":1120.5,"write":7.4},{"t":1123.5,"write":8.2},{"t":1126.5,"write":7.8},{"t":1129.5,"write":7.9},{"t":1132.5,"write":8.0},{"t":1135.5,"write":7.9},{"t":1138.5,"write":7.7},
{"t":1141.5,"write":27.0},{"t":1144.5,"write":8.3},{"t":1147.5,"write":7.6},{"t":1150.5,"write":7.9},{"t":1153.5,"write":7.2},{"t":1156.5,"write":7.4},{"t":1159.5,"write":8.0},{"t":1162.5,"write":7.7},{"t":1165.5,"write":7.8},{"t":1168.5,"write":6.9},{"t":1171.5,"write":7.4},{"t":1174.5,"write":7.9},{"t":1177.5,"write":8.2},{"t":1180.5,"write":7.7},{"t":1183.5,"write":8.0},{"t":1186.5,"write":7.8},{"t":1189.5,"write":7.7},{"t":1192.5,"write":8.0},{"t":1195.5,"write":7.4},{"t":1198.5,"write":5.6},
{"t":1201.5,"write":6.9},{"t":1204.5,"write":8.0},{"t":1207.5,"write":7.7},{"t":1210.5,"write":8.4},{"t":1213.5,"write":7.0},{"t":1216.5,"write":3.4},{"t":1219.5,"write":4.0},{"t":1222.5,"write":7.1},{"t":1225.5,"write":7.9},{"t":1228.5,"write":7.6},{"t":1231.5,"write":8.1},{"t":1234.5,"write":7.5},{"t":1237.5,"write":7.9},{"t":1240.5,"write":8.2},{"t":1243.5,"write":7.8},{"t":1246.5,"write":7.8},{"t":1249.5,"write":7.4},{"t":1252.5,"write":7.5},{"t":1255.5,"write":6.6},{"t":1258.5,"write":7.0},
{"t":1261.5,"write":7.9},{"t":1264.5,"write":7.5},{"t":1267.5,"write":7.8},{"t":1270.5,"write":7.9},{"t":1273.5,"write":8.2},{"t":1276.5,"write":5.6},{"t":1279.5,"write":1.0},{"t":1282.5,"write":0},{"t":1285.5,"write":20.0},{"t":1288.5,"write":0},{"t":1291.5,"write":4.0},{"t":1294.5,"write":7.8},{"t":1297.5,"write":7.5},{"t":1300.5,"write":3.0},{"t":1303.5,"write":4.5},{"t":1306.5,"write":8.5},{"t":1309.5,"write":40.0},{"t":1312.5,"write":2.0},{"t":1315.5,"write":1.0},{"t":1318.5,"write":2.2},
{"t":1321.5,"write":4.5},{"t":1324.5,"write":7.2},{"t":1327.5,"write":3.5},{"t":1330.5,"write":4.8},{"t":1333.5,"write":6.5},{"t":1336.5,"write":6.2},{"t":1339.5,"write":7.6},{"t":1342.5,"write":7.9},{"t":1345.5,"write":8.0},{"t":1348.5,"write":7.6},{"t":1351.5,"write":7.2},{"t":1354.5,"write":7.5},{"t":1357.5,"write":7.9},{"t":1360.5,"write":7.8},{"t":1363.5,"write":7.0},{"t":1366.5,"write":6.5},{"t":1369.5,"write":8.0},{"t":1372.5,"write":7.6},{"t":1375.5,"write":8.3},{"t":1378.5,"write":7.6},
{"t":1381.5,"write":7.8},{"t":1384.5,"write":7.2},{"t":1387.5,"write":7.4},{"t":1390.5,"write":8.2},{"t":1393.5,"write":7.7},{"t":1396.5,"write":7.9},{"t":1399.5,"write":6.8},{"t":1402.5,"write":6.8},{"t":1405.5,"write":7.7},{"t":1408.5,"write":7.9},{"t":1411.5,"write":7.9},{"t":1414.5,"write":8.0},{"t":1417.5,"write":8.2},{"t":1420.5,"write":7.7},{"t":1423.5,"write":7.2},{"t":1426.5,"write":7.5},{"t":1429.5,"write":8.2},{"t":1432.5,"write":7.0},{"t":1435.5,"write":7.1},{"t":1438.5,"write":7.4},
{"t":1441.5,"write":8.2},{"t":1444.5,"write":8.6},{"t":1447.5,"write":7.8},{"t":1450.5,"write":8.3},{"t":1453.5,"write":7.2},{"t":1456.5,"write":7.4},{"t":1459.5,"write":6.4},{"t":1462.5,"write":3.6},{"t":1465.5,"write":4.6},{"t":1468.5,"write":8.0},{"t":1471.5,"write":8.2},{"t":1474.5,"write":7.8},{"t":1477.5,"write":7.6},{"t":1480.5,"write":8.1},{"t":1483.5,"write":6.5},{"t":1486.5,"write":2.5},{"t":1489.5,"write":1.9},{"t":1492.5,"write":1.3},{"t":1495.5,"write":2.4},{"t":1498.5,"write":1.8},
{"t":1501.5,"write":4.8},{"t":1504.5,"write":7.4},{"t":1507.5,"write":6.8},{"t":1510.5,"write":7.5},{"t":1513.5,"write":8.0},{"t":1516.5,"write":8.4},{"t":1519.5,"write":6.5},{"t":1522.5,"write":7.6},{"t":1525.5,"write":8.2},{"t":1528.5,"write":7.6},{"t":1531.5,"write":7.9},{"t":1534.5,"write":8.1},{"t":1537.5,"write":7.7},{"t":1540.5,"write":8.5},{"t":1543.5,"write":7.8},{"t":1546.5,"write":7.9},{"t":1549.5,"write":8.3},{"t":1552.5,"write":7.9},{"t":1555.5,"write":8.0},{"t":1558.5,"write":8.6},
{"t":1561.5,"write":8.0},{"t":1564.5,"write":8.4},{"t":1567.5,"write":7.6},{"t":1570.5,"write":8.0},{"t":1573.5,"write":6.6},{"t":1576.5,"write":6.8},{"t":1579.5,"write":8.6},{"t":1582.5,"write":7.6},{"t":1585.5,"write":7.4},{"t":1588.5,"write":7.9},{"t":1591.5,"write":8.2},{"t":1594.5,"write":7.6},{"t":1597.5,"write":8.0},{"t":1600.5,"write":8.2},{"t":1603.5,"write":7.9},{"t":1606.5,"write":8.0},{"t":1609.5,"write":7.9},{"t":1612.5,"write":7.3},{"t":1615.5,"write":7.5},{"t":1618.5,"write":8.0},
{"t":1621.5,"write":8.0},{"t":1624.5,"write":8.4},{"t":1627.5,"write":8.0},{"t":1630.5,"write":7.1},{"t":1633.5,"write":6.6},{"t":1636.5,"write":7.2},{"t":1639.5,"write":7.8},{"t":1642.5,"write":7.9},{"t":1645.5,"write":7.6},{"t":1648.5,"write":8.2},{"t":1651.5,"write":8.1},{"t":1654.5,"write":8.0},{"t":1657.5,"write":7.4},{"t":1660.5,"write":5.6},{"t":1663.5,"write":6.2},{"t":1666.5,"write":8.2},{"t":1669.5,"write":6.5},{"t":1672.5,"write":3.4},{"t":1675.5,"write":2.5},{"t":1678.5,"write":5.5},
{"t":1681.5,"write":7.4},{"t":1684.5,"write":7.7},{"t":1687.5,"write":6.6},{"t":1690.5,"write":7.0},{"t":1693.5,"write":6.2},{"t":1696.5,"write":6.7},{"t":1699.5,"write":7.5},{"t":1702.5,"write":7.0},{"t":1705.5,"write":6.8},{"t":1708.5,"write":7.1},{"t":1711.5,"write":6.5},{"t":1714.5,"write":6.8},{"t":1717.5,"write":6.3},{"t":1720.5,"write":6.5},{"t":1723.5,"write":6.9},{"t":1726.5,"write":6.4},{"t":1729.5,"write":6.0},{"t":1732.5,"write":6.1},{"t":1735.5,"write":6.9},{"t":1738.5,"write":6.5},
{"t":1741.5,"write":6.8},{"t":1744.5,"write":6.6},{"t":1747.5,"write":4.6},{"t":1750.5,"write":2.4},{"t":1753.5,"write":1.4},{"t":1756.5,"write":1.9},{"t":1759.5,"write":4.0},{"t":1762.5,"write":6.0},{"t":1765.5,"write":7.0},{"t":1768.5,"write":6.6},{"t":1771.5,"write":7.1},{"t":1774.5,"write":6.5},{"t":1777.5,"write":7.3},{"t":1780.5,"write":6.8},{"t":1783.5,"write":5.2},{"t":1786.5,"write":1.8},{"t":1789.5,"write":4.5},{"t":1792.5,"write":6.4},{"t":1795.5,"write":3.8},{"t":1798.5,"write":3.6}
]},
"layer": [
  {
    "data": {"name": "io"},
    "transform": [{"filter": "isValid(datum.read)"}],
    "mark": {"type": "line", "strokeWidth": 1, "interpolate": "linear"},
    "encoding": {
      "x": {"field": "t", "type": "quantitative", "sort": "ascending", "scale": {"domain": [0, 1800], "nice": false, "zero": false},
        "axis": {"orient": "bottom", "values": [0,60,120,180,240,300,360,420,480,540,600,660,720,780,840,900,960,1020,1080,1140,1200,1260,1320,1380,1440,1500,1560,1620,1680,1740,1800],
          "labelExpr": "datum.value % 180 == 0 ? (datum.value < 600 ? '0' : '') + (datum.value / 60) + ':00' : ''",
          "tickSize": {"condition": {"test": "datum.value % 180 == 0", "value": -7}, "value": -3.5},
          "grid": true, "gridOpacity": {"condition": {"test": "datum.value % 180 == 0", "value": 1}, "value": 0},
          "labelBaseline": "middle", "labelPadding": 21,
          "title": "Time (Min)", "titleX": 789, "titleY": 53, "titleBaseline": "middle", "titleAlign": "center"}},
      "y": {"field": "read", "type": "quantitative", "scale": {"domain": [0, 50], "nice": false},
        "axis": {"orient": "left", "values": [0,5,10,15,20,25,30,35,40,45,50], "tickSize": -7, "grid": true, "labelPadding": 22,
          "title": "I/O bandwidth (MB)", "titleX": -67, "titleY": 249.5, "titleAngle": -90, "titleAlign": "center", "titleBaseline": "middle"}},
      "color": {"datum": "read", "type": "nominal", "scale": {"domain": ["read", "write"], "range": ["#ff0000", "#00c000"]},
        "legend": {"title": null, "labelExpr": "'data:' + datum.label"}}
    }
  },
  {
    "data": {"name": "io"},
    "mark": {"type": "line", "strokeWidth": 1, "interpolate": "linear"},
    "encoding": {
      "x": {"field": "t", "type": "quantitative", "sort": "ascending", "axis": null},
      "y": {"field": "write", "type": "quantitative", "axis": null},
      "color": {"datum": "write", "type": "nominal", "legend": {"title": null, "labelExpr": "'data:' + datum.label"}}
    }
  },
  {
    "data": {"values": [{"t": 0, "v": 0}]},
    "mark": {"type": "point", "opacity": 0},
    "encoding": {
      "x": {"field": "t", "type": "quantitative",
        "axis": {"orient": "top", "values": [0,60,120,180,240,300,360,420,480,540,600,660,720,780,840,900,960,1020,1080,1140,1200,1260,1320,1380,1440,1500,1560,1620,1680,1740,1800],
          "labels": false, "domain": false, "grid": false, "title": null,
          "tickSize": {"condition": {"test": "datum.value % 180 == 0", "value": -7}, "value": -3.5}}},
      "y": {"field": "v", "type": "quantitative",
        "axis": {"orient": "right", "values": [0,5,10,15,20,25,30,35,40,45,50], "labels": false, "grid": false, "title": null, "tickSize": -7}}
    }
  }
],
"resolve": {"scale": {"x": "shared", "y": "shared"}, "axis": {"x": "independent", "y": "independent"}}
}
